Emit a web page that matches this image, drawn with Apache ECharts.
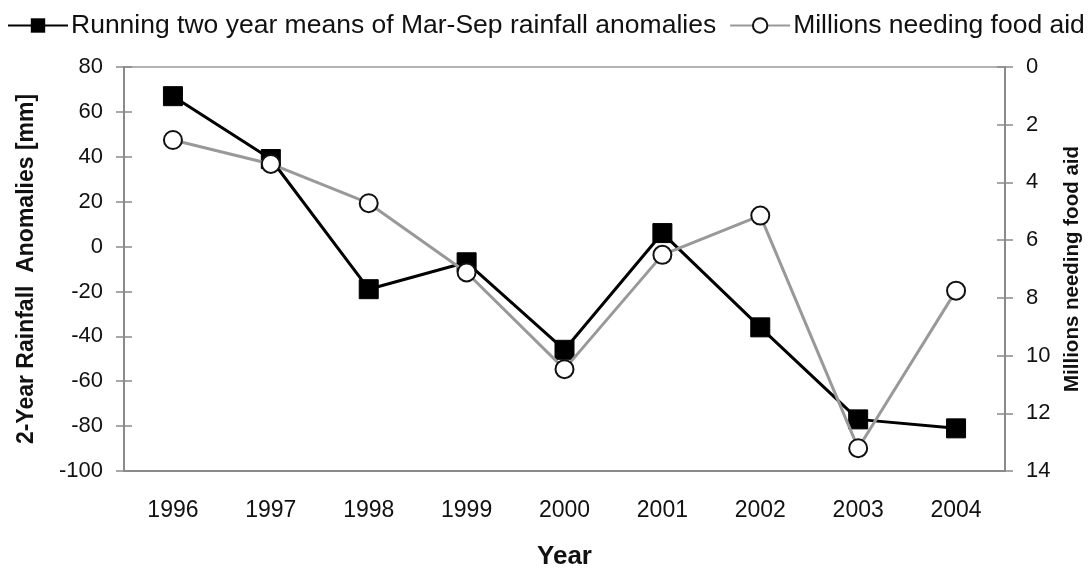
<!DOCTYPE html>
<html>
<head>
<meta charset="utf-8">
<script src="https://cdn.jsdelivr.net/npm/echarts@6/dist/echarts.min.js"></script>
<style>html,body{margin:0;padding:0;background:#fff}#c{width:1090px;height:569px}</style>
</head>
<body>
<div id="c"></div>
<script>
const years = ['1996','1997','1998','1999','2000','2001','2002','2003','2004'];
const rainfall = [67, 39, -19, -7, -46, 6, -36, -77, -81];
const foodAid = [2.53, 3.36, 4.72, 7.12, 10.47, 6.51, 5.15, 13.21, 7.75];
const rainName = 'Running two year means of Mar-Sep rainfall anomalies';
const aidName = 'Millions needing food aid';

const FONT = '"Liberation Sans", Arial, sans-serif';
const AX = '#8a8a8a';
const chart = echarts.init(document.getElementById('c'));
chart.setOption({
  animation:false,
  backgroundColor:'#fff',
  textStyle:{fontFamily:FONT},
  legend:{
    left:2, top:7, itemWidth:60, itemHeight:18, itemGap:13,
    textStyle:{color:'#111', fontSize:26.5, fontFamily:FONT, padding:[0,0,0,-2]},
    data:[rainName, aidName]
  },
  grid:{left:124, right:85, top:67, bottom:98, show:true, borderColor:'#999', borderWidth:1.5, outerBoundsMode:'none', containLabel:false},
  xAxis:[{
    type:'category', data:years, boundaryGap:true,
    name:'Year', nameLocation:'middle', nameGap:73,
    nameTextStyle:{color:'#111', fontSize:26, fontWeight:'bold', fontFamily:FONT},
    axisLine:{onZero:false, lineStyle:{color:AX, width:2}},
    axisTick:{length:8, lineStyle:{color:AX, width:1.5}},
    axisLabel:{margin:28, color:'#111', fontSize:23, fontFamily:FONT}
  },{
    type:'category', data:years, boundaryGap:true, position:'bottom',
    axisLine:{show:false, onZero:false}, axisLabel:{show:false},
    axisTick:{inside:true, length:8, lineStyle:{color:AX, width:1.5}}
  }],
  yAxis:[{
    type:'value', min:-100, max:80, interval:20, position:'left',
    name:'2-Year Rainfall  Anomalies [mm]', nameLocation:'middle', nameGap:86, nameRotate:90,
    nameTextStyle:{color:'#111', fontSize:23, fontWeight:'bold', fontFamily:FONT},
    splitLine:{show:false},
    axisLine:{show:true, onZero:false, lineStyle:{color:AX, width:2}},
    axisTick:{show:true, length:8, lineStyle:{color:AX, width:1.5}},
    axisLabel:{margin:21, color:'#111', fontSize:22, fontFamily:FONT}
  },{
    type:'value', min:0, max:14, interval:2, inverse:true, position:'right',
    name:'Millions needing food aid', nameLocation:'middle', nameGap:55, nameRotate:90,
    nameTextStyle:{color:'#111', fontSize:20.5, fontWeight:'bold', fontFamily:FONT},
    splitLine:{show:false},
    axisLine:{show:true, onZero:false, lineStyle:{color:AX, width:2}},
    axisTick:{show:true, length:8, lineStyle:{color:AX, width:1.5}},
    axisLabel:{margin:21, color:'#111', fontSize:22, fontFamily:FONT}
  },{
    type:'value', min:-100, max:80, interval:20, position:'left',
    splitLine:{show:false}, axisLine:{show:false, onZero:false}, axisLabel:{show:false},
    axisTick:{show:true, inside:true, length:8, lineStyle:{color:AX, width:1.5}}
  },{
    type:'value', min:0, max:14, interval:2, inverse:true, position:'right',
    splitLine:{show:false}, axisLine:{show:false, onZero:false}, axisLabel:{show:false},
    axisTick:{show:true, inside:true, length:8, lineStyle:{color:AX, width:1.5}}
  }],
  series:[{
    name:rainName, type:'line', data:rainfall, xAxisIndex:0, yAxisIndex:0,
    symbol:'rect', symbolSize:19, z:3,
    lineStyle:{color:'#000', width:3},
    itemStyle:{color:'#000', borderColor:'#000'}
  },{
    name:aidName, type:'line', data:foodAid, xAxisIndex:0, yAxisIndex:1,
    symbol:'circle', symbolSize:18, z:4,
    lineStyle:{color:'#999', width:3},
    itemStyle:{color:'#fff', borderColor:'#111', borderWidth:2}
  }]
});
</script>
</body>
</html>
